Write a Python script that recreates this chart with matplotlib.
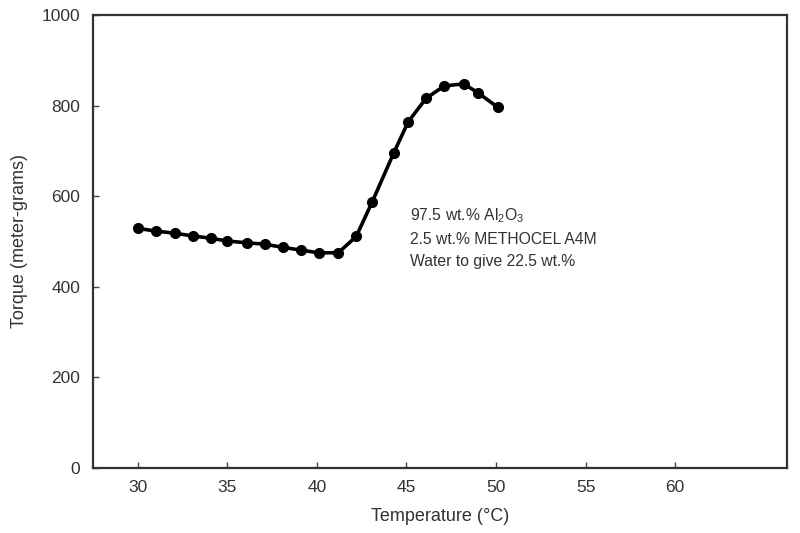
import matplotlib
matplotlib.use("Agg")
import matplotlib.pyplot as plt

temperature = [30.0, 31.0, 32.1, 33.1, 34.1, 35.0, 36.1, 37.1, 38.1, 39.1, 40.1,
               41.2, 42.2, 43.1, 44.3, 45.1, 46.1, 47.1, 48.2, 49.0, 50.1]
torque = [529, 523, 518, 512, 507, 501, 497, 494, 487, 481, 475,
          475, 511, 588, 696, 764, 816, 843, 848, 828, 796]

x_ticks = [30, 35, 40, 45, 50, 55, 60]
y_ticks = [0, 200, 400, 600, 800, 1000]

plt.rcParams["font.family"] = ["Liberation Sans", "DejaVu Sans"]
plt.rcParams["mathtext.fontset"] = "custom"
plt.rcParams["mathtext.rm"] = "Liberation Sans"
plt.rcParams["mathtext.it"] = "Liberation Sans"

txt = "#333333"

fig = plt.figure(figsize=(8, 5.33), dpi=100)
ax = fig.add_axes([0.116, 0.122, 0.868, 0.85])

ax.plot(temperature, torque, "-o", color="black", linewidth=2.6, markersize=7)

ax.set_xlim(27.5, 66.25)
ax.set_ylim(0, 1000)
ax.set_xticks(x_ticks)
ax.set_yticks(y_ticks)
ax.tick_params(direction="in", length=4, width=1, colors="#444444",
               labelcolor=txt, labelsize=12.5, pad=9)
for s in ax.spines.values():
    s.set_color("#333333")
    s.set_linewidth(1.6)

ax.set_xlabel("Temperature (°C)", fontsize=13, color=txt, labelpad=9)
ax.set_ylabel("Torque (meter-grams)", fontsize=13, color=txt, labelpad=10)

ax.text(0.457, 0.578,
        "97.5 wt.% Al$_2$O$_3$\n2.5 wt.% METHOCEL A4M\nWater to give 22.5 wt.%",
        transform=ax.transAxes, ha="left", va="top", fontsize=11.3,
        color=txt, linespacing=1.58)

fig.savefig("out.png", dpi=100)
